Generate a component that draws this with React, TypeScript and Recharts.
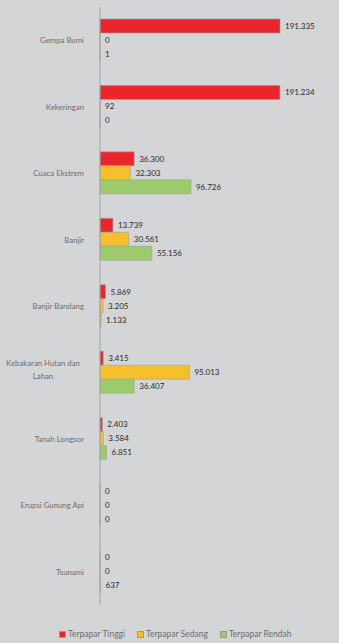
import { BarChart, Bar, XAxis, YAxis, LabelList } from 'recharts';

const categories = [
  'Gempa Bumi',
  'Kekeringan',
  'Cuaca Ekstrem',
  'Banjir',
  'Banjir Bandang',
  'Kebakaran Hutan dan\nLahan',
  'Tanah Longsor',
  'Erupsi Gunung Api',
  'Tsunami',
];
const tinggi = [191335, 191234, 36300, 13739, 5869, 3415, 2403, 0, 0];
const sedang = [0, 92, 32303, 30561, 3205, 95013, 3584, 0, 0];
const rendah = [1, 0, 96726, 55156, 1133, 36407, 6851, 0, 637];

const SERIES = [
  { key: 'tinggi', name: 'Terpapar Tinggi', color: '#e8262b' },
  { key: 'sedang', name: 'Terpapar Sedang', color: '#f6bf2c' },
  { key: 'rendah', name: 'Terpapar Rendah', color: '#9dcb6b' },
];

const data = categories.map((name, i) => ({
  name,
  tinggi: tinggi[i],
  sedang: sedang[i],
  rendah: rendah[i],
}));

const FONT = 'Lato, "Open Sans", sans-serif';

// thousands separator is a dot (Indonesian format)
const fmt = (v: unknown) => Number(v).toLocaleString('de-DE');

const CategoryTick = (props: any) => {
  const { x, y, payload } = props;
  const lines = String(payload.value).split('\n');
  if (lines.length === 1) {
    return (
      <text x={x - 8} y={y} dy={3} textAnchor="end" fill="#6d6e70" fontSize={7.8} fontFamily={FONT}>
        {lines[0]}
      </text>
    );
  }
  return (
    <text x={x - 49} y={y - 6} textAnchor="middle" fill="#6d6e70" fontSize={7.8} fontFamily={FONT}>
      {lines.map((l, i) => (
        <tspan key={i} x={x - 49} dy={i === 0 ? 0 : 12.5}>
          {l}
        </tspan>
      ))}
    </text>
  );
};

// legend sits under the plot, drawn as plain html so it doesn't eat plot height
const ChartLegend = () => (
  <div
    style={{
      position: 'absolute',
      top: 629,
      left: 59,
      display: 'flex',
      gap: 12,
      fontFamily: FONT,
      fontSize: 8.5,
      color: '#6d6e70',
      whiteSpace: 'nowrap',
    }}
  >
    {SERIES.map((s) => (
      <span key={s.key} style={{ display: 'flex', alignItems: 'center' }}>
        <span style={{ width: 5, height: 5, background: s.color, border: '0.5px solid #999', marginRight: 2 }} />
        {s.name}
      </span>
    ))}
  </div>
);

const App = () => {
  return (
    <div style={{ position: 'fixed', left: 0, top: 0, width: 339, height: 643, background: '#d4d5d7' }}>
      <BarChart
        width={339}
        height={643}
        data={data}
        layout="vertical"
        margin={{ top: 7, right: 59, bottom: 38, left: 0 }}
        barCategoryGap="18%"
        barGap={0}
      >
        <XAxis type="number" hide domain={[0, 'dataMax']} />
        <YAxis
          type="category"
          dataKey="name"
          width={100}
          axisLine={{ stroke: '#a3a4a6' }}
          tickLine={false}
          tick={<CategoryTick />}
          interval={0}
        />
        {SERIES.map((s) => (
          <Bar
            key={s.key}
            dataKey={s.key}
            name={s.name}
            fill={s.color}
            stroke="#a0a0a0"
            strokeWidth={0.6}
            minPointSize={0.01}
            isAnimationActive={false}
          >
            <LabelList
              dataKey={s.key}
              position="right"
              offset={5}
              formatter={fmt}
              fill="#2b2b2b"
              fontSize={8}
              fontFamily={FONT}
            />
          </Bar>
        ))}
      </BarChart>
      <ChartLegend />
    </div>
  );
};

export default App;
